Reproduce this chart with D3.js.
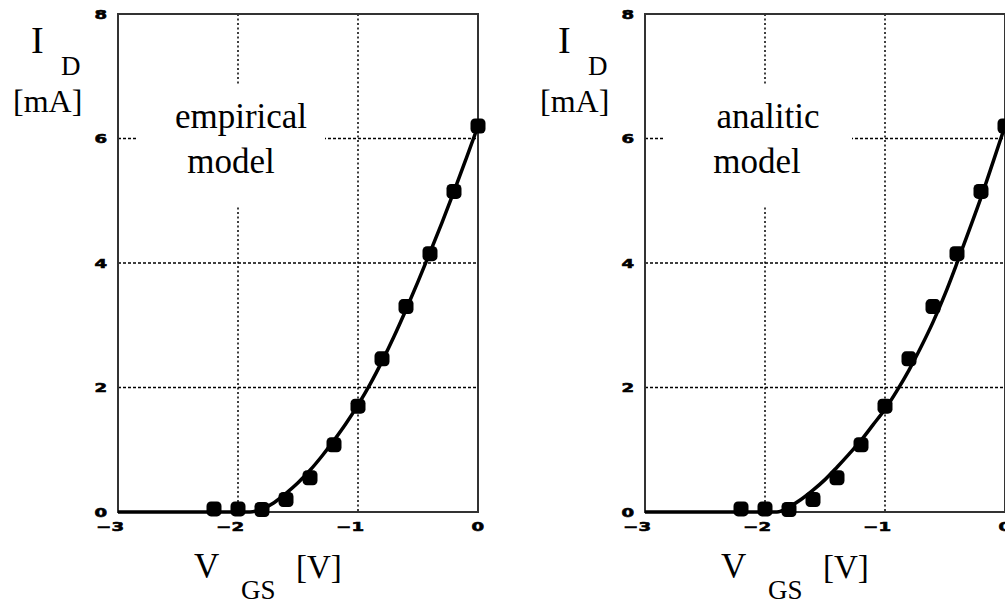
<!DOCTYPE html>
<html>
<head>
<meta charset="utf-8">
<script src="https://cdn.jsdelivr.net/npm/d3@7"></script>
<style>
  body { margin: 0; background: #fff; }
  svg { display: block; }
</style>
</head>
<body>
<svg id="chart" width="1005" height="605"></svg>
<script>
// measured points (same in both panels)
const vgsMeas = [-2.2, -2.0, -1.8, -1.6, -1.4, -1.2, -1.0, -0.8, -0.6, -0.4, -0.2, 0];
const idMeas = [0.05, 0.05, 0.04, 0.2, 0.55, 1.08, 1.7, 2.46, 3.3, 4.15, 5.15, 6.2];

// model curves
const vgsCurve = [-3, -2.0, -1.9, -1.8, -1.7, -1.6, -1.5, -1.4, -1.3, -1.2, -1.1, -1.0, -0.9, -0.8, -0.7, -0.6, -0.5, -0.4, -0.3, -0.2, -0.1, 0];
const idEmpirical = [0, 0, 0, 0.05, 0.15, 0.3, 0.47, 0.67, 0.9, 1.15, 1.42, 1.72, 2.05, 2.42, 2.82, 3.25, 3.7, 4.17, 4.65, 5.15, 5.67, 6.2];
const idAnalitic = [0, 0, 0, 0.08, 0.2, 0.35, 0.52, 0.72, 0.93, 1.15, 1.4, 1.65, 1.95, 2.28, 2.65, 3.05, 3.5, 4.0, 4.52, 5.05, 5.62, 6.2];

const xTicks = [-3, -2, -1, 0];
const yTicks = [0, 2, 4, 6, 8];
const xGrid = [-2, -1];
const yGrid = [2, 4, 6];

const svg = d3.select('#chart');
const serif = 'Liberation Serif, Times New Roman, serif';

function panel(left, curve, title) {
    const x = d3.scaleLinear().domain([-3, 0]).range([left, left + 360]);
    const y = d3.scaleLinear().domain([0, 8]).range([512, 14]);
    const g = svg.append('g');

    // grid
    g.selectAll('.vg').data(xGrid).join('line')
        .attr('x1', d => x(d)).attr('x2', d => x(d))
        .attr('y1', y(8)).attr('y2', y(0))
        .attr('stroke', '#000').attr('stroke-width', 1.5)
        .attr('stroke-dasharray', '2,2.5');
    g.selectAll('.hg').data(yGrid).join('line')
        .attr('x1', x(-3)).attr('x2', x(0))
        .attr('y1', d => y(d)).attr('y2', d => y(d))
        .attr('stroke', '#000').attr('stroke-width', 1.5)
        .attr('stroke-dasharray', '3,2');

    // white box behind the title
    g.append('rect')
        .attr('x', left + 19).attr('y', 84)
        .attr('width', 188).attr('height', 121)
        .attr('fill', '#fff');

    // frame
    g.append('rect')
        .attr('x', x(-3)).attr('y', y(8))
        .attr('width', x(0) - x(-3)).attr('height', y(0) - y(8))
        .attr('fill', 'none').attr('stroke', '#333').attr('stroke-width', 2);

    // curve
    const line = d3.line()
        .x((d, i) => x(vgsCurve[i]))
        .y(d => y(d))
        .curve(d3.curveMonotoneX);
    g.append('path').datum(curve)
        .attr('d', line)
        .attr('fill', 'none').attr('stroke', '#000').attr('stroke-width', 3.5);

    // measured markers
    g.selectAll('.pt').data(idMeas).join('rect')
        .attr('x', (d, i) => x(vgsMeas[i]) - 7.5)
        .attr('y', d => y(d) - 7.5)
        .attr('width', 15).attr('height', 15)
        .attr('rx', 4.5)
        .attr('fill', '#000');

    // tick labels
    const tick = 'DejaVu Sans, sans-serif';
    g.selectAll('.yt').data(yTicks).join('text')
        .attr('transform', d => `translate(${x(-3) - 11},${y(d) + 4.5}) scale(1.45,1)`)
        .attr('text-anchor', 'end')
        .attr('font-family', tick).attr('font-weight', 'bold').attr('font-size', 12.5)
        .attr('stroke', '#000').attr('stroke-width', 0.6)
        .text(d => d);
    g.selectAll('.xt').data(xTicks).join('text')
        .attr('transform', d => `translate(${x(d) + 6},${531}) scale(1.45,1)`)
        .attr('text-anchor', 'end')
        .attr('font-family', tick).attr('font-weight', 'bold').attr('font-size', 12.5)
        .attr('stroke', '#000').attr('stroke-width', 0.6)
        .text(d => d < 0 ? '\u2212' + Math.abs(d) : d);

    // title
    const t = g.append('g').attr('font-family', serif).attr('font-size', 35)
        .attr('text-anchor', 'middle');
    t.append('text').attr('x', left + 123).attr('y', 128).text(title);
    t.append('text').attr('x', left + 113 + (title === 'empirical' ? 0 : -1)).attr('y', 173).text('model');

    // axis titles
    const a = g.append('g').attr('font-family', serif);
    const off = left - 118;
    a.append('text').attr('x', 31 + off).attr('y', 53).attr('font-size', 38).text('I');
    a.append('text').attr('x', 61 + off).attr('y', 75).attr('font-size', 27).text('D');
    a.append('text').attr('x', 13 + off).attr('y', 112).attr('font-size', 32).text('[mA]');
    a.append('text').attr('x', 194 + off).attr('y', 578).attr('font-size', 35).text('V');
    a.append('text').attr('x', 241 + off).attr('y', 599).attr('font-size', 27).text('GS');
    a.append('text').attr('x', 296 + off).attr('y', 578).attr('font-size', 33).text('[V]');
}

panel(118, idEmpirical, 'empirical');
panel(645, idAnalitic, 'analitic');
</script>
</body>
</html>
